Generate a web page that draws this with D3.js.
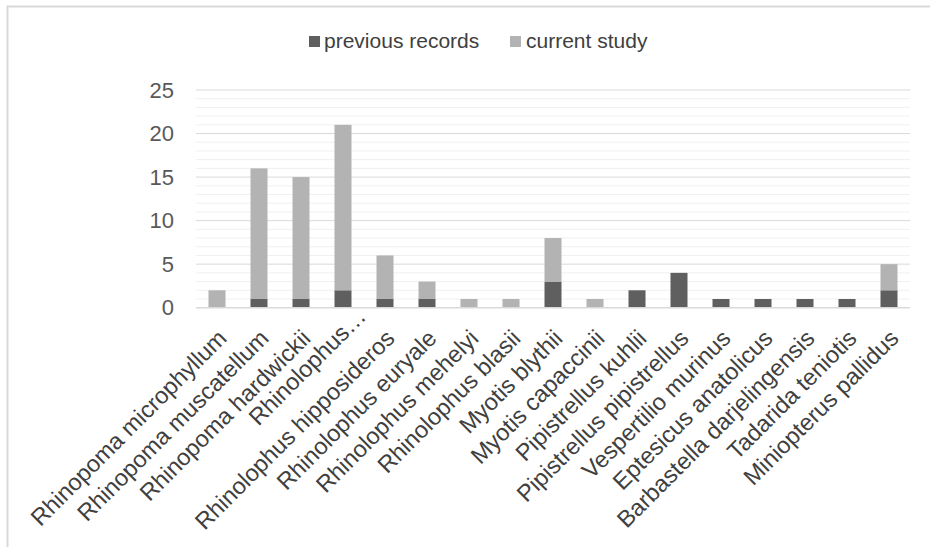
<!DOCTYPE html>
<html>
<head>
<meta charset="utf-8">
<script src="https://cdn.jsdelivr.net/npm/d3@7"></script>
<style>
  html, body { margin: 0; padding: 0; background: #fff; }
  svg { display: block; font-family: "Liberation Sans", Arial, sans-serif; }
</style>
</head>
<body>
<svg id="chart" width="930" height="547"></svg>
<script>
// Bat species and record counts
const species = [
  "Rhinopoma microphyllum", "Rhinopoma muscatellum", "Rhinopoma hardwickii",
  "Rhinolophus…", "Rhinolophus hipposideros", "Rhinolophus euryale",
  "Rhinolophus mehelyi", "Rhinolophus blasii", "Myotis blythii",
  "Myotis capaccinii", "Pipistrellus kuhlii", "Pipistrellus pipistrellus",
  "Vespertilio murinus", "Eptesicus anatolicus", "Barbastella darjelingensis",
  "Tadarida teniotis", "Miniopterus pallidus"
];
const previousRecords = [0, 1, 1, 2, 1, 1, 0, 0, 3, 0, 2, 4, 1, 1, 1, 1, 2];
const currentStudy    = [2, 15, 14, 19, 5, 2, 1, 1, 5, 1, 0, 0, 0, 0, 0, 0, 3];
const seriesNames = ["previous records", "current study"];
const yTicks = [0, 5, 10, 15, 20, 25];

const colors = { "previous records": "#5f5f5f", "current study": "#b3b3b3" };

const svg = d3.select("#chart");
const W = 930, H = 547;

// Chart frame (top and left edges)
svg.append("path")
  .attr("d", `M7.5,${H} L7.5,6.5 L${W},6.5`)
  .attr("fill", "none")
  .attr("stroke", "#d9d9d9")
  .attr("stroke-width", 2);

const plot = { left: 196, right: 910, top: 90, bottom: 307.7 };

const x = d3.scaleBand()
  .domain(species)
  .range([plot.left, plot.right])
  .paddingInner(0.595)
  .paddingOuter(0.2975);

const y = d3.scaleLinear()
  .domain([0, 25])
  .range([plot.bottom, plot.top]);

// Minor gridlines every unit
const minor = d3.range(1, 25).filter(v => v % 5 !== 0);
svg.append("g").selectAll("line").data(minor).join("line")
  .attr("x1", plot.left).attr("x2", plot.right)
  .attr("y1", d => y(d)).attr("y2", d => y(d))
  .attr("stroke", "#f0f0f0").attr("stroke-width", 1);

// Major gridlines
svg.append("g").selectAll("line").data(yTicks.filter(v => v > 0)).join("line")
  .attr("x1", plot.left).attr("x2", plot.right)
  .attr("y1", d => y(d)).attr("y2", d => y(d))
  .attr("stroke", "#d9d9d9").attr("stroke-width", 1);

// Stacked bars
const rows = species.map((s, i) => ({
  species: s,
  "previous records": previousRecords[i],
  "current study": currentStudy[i]
}));
const stacked = d3.stack().keys(seriesNames)(rows);

svg.append("g").selectAll("g").data(stacked).join("g")
  .attr("fill", d => colors[d.key])
  .selectAll("rect").data(d => d).join("rect")
  .attr("x", d => x(d.data.species))
  .attr("width", x.bandwidth())
  .attr("y", d => y(d[1]))
  .attr("height", d => y(d[0]) - y(d[1]));

// Baseline
svg.append("line")
  .attr("x1", plot.left).attr("x2", plot.right)
  .attr("y1", y(0)).attr("y2", y(0))
  .attr("stroke", "#d9d9d9").attr("stroke-width", 1.5);

// Y axis labels
const yAxis = d3.axisLeft(y).tickValues(yTicks).tickSize(0).tickPadding(22);
const yg = svg.append("g").attr("transform", `translate(${plot.left},0)`).call(yAxis);
yg.select(".domain").remove();
yg.attr("font-size", null).attr("font-family", null);
yg.selectAll("text")
  .attr("font-size", 22)
  .attr("fill", "#595959");

// X axis labels, rotated; a truncated label sits further along its line,
// as the first line of a wrapped label box
const xAxis = d3.axisBottom(x).tickSize(0).tickPadding(0);
const xg = svg.append("g").attr("transform", `translate(0,${y(0)})`).call(xAxis);
xg.select(".domain").remove();
xg.attr("font-size", null).attr("font-family", null);
xg.selectAll("text")
  .attr("font-size", 23.5)
  .attr("fill", "#404040")
  .attr("text-anchor", "end")
  .attr("dy", null)
  .attr("y", 0)
  .attr("transform", d => d.endsWith("…")
    ? "translate(11,32) rotate(-45) translate(25,-6)"
    : "translate(11,32) rotate(-45)");

// Legend
const legendItems = [
  { name: seriesNames[0], sx: 309, tx: 324 },
  { name: seriesNames[1], sx: 510, tx: 526 }
];
const lg = svg.append("g");
lg.selectAll("rect").data(legendItems).join("rect")
  .attr("x", d => d.sx).attr("y", 36)
  .attr("width", 11).attr("height", 11)
  .attr("fill", d => colors[d.name]);
lg.selectAll("text").data(legendItems).join("text")
  .attr("x", d => d.tx).attr("y", 48)
  .attr("font-size", 21)
  .attr("fill", "#404040")
  .text(d => d.name);
</script>
</body>
</html>
